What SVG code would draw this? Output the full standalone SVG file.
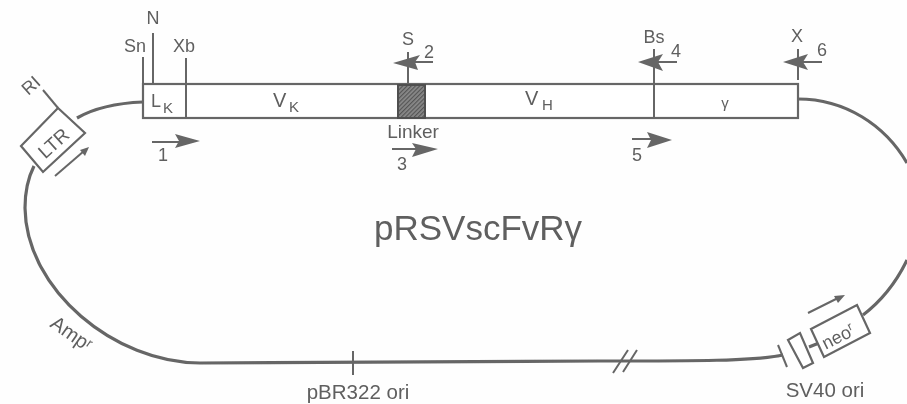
<svg xmlns="http://www.w3.org/2000/svg" width="907" height="404" viewBox="0 0 907 404">
<style>
text{font-family:"Liberation Sans",Arial,sans-serif;fill:#5f5f5f;font-size:18px}
.m{text-anchor:middle}
.s{font-size:15px}
.b{fill:#fff;stroke:#666;stroke-width:2.2}
.l{fill:none;stroke:#666;stroke-width:2}
.p{fill:none;stroke:#666;stroke-width:3.2}
.h{fill:#666}
</style>
<defs>
<pattern id="hatch" width="3" height="3" patternUnits="userSpaceOnUse" patternTransform="rotate(-45)">
<rect width="3" height="3" fill="#8a8a8a"/><rect width="3" height="1.2" fill="#555"/>
</pattern>
<filter id="soft" x="0" y="0" width="100%" height="100%" filterUnits="userSpaceOnUse"><feGaussianBlur stdDeviation="0.5"/></filter>
</defs>
<rect width="907" height="404" fill="#fefefe"/>
<g filter="url(#soft)">
<g id="connectors">
<path class="p" d="M143,102 C118,103 96,107 77,118"/>
<path class="p" d="M34,166 C28,178 25,190 25,208 C26,290 115,363 200,363 L600,361 C700,361 750,361 783,355"/>
<path class="p" d="M798,99 C845,99 885,125 907,163"/>
<path class="p" d="M907,260 C895,285 880,302 863,315"/>
<path class="p" d="M809,347 L819,343"/>
<path class="l" d="M353,351V375"/>
<path class="l" d="M613,373L628,350M623,372L637,350"/>
<path class="l" d="M778,345L787,367"/>
<path class="l" d="M43,90L58,108"/>
<path class="l" d="M143,57V83M153,33V84M186,58V84M408,52V84M654,49V84M798,49V80"/>
</g>
<g id="insert">
<rect class="b" x="143" y="84" width="655" height="34"/>
<path class="l" d="M186,84V118M654,84V118"/>
<rect x="398" y="85" width="27" height="33" fill="url(#hatch)" stroke="#505050" stroke-width="2"/>
<text x="151" y="107">L</text><text x="163" y="113" class="s">K</text>
<text x="273" y="107" style="font-size:20px">V</text><text x="289" y="112" class="s">K</text>
<text x="525" y="105" style="font-size:20px">V</text><text x="542" y="110" class="s">H</text>
<text x="725" y="108" class="s m">γ</text>
</g>
<g id="sites">
<text x="153" y="24" class="m">N</text>
<text x="135" y="52" class="m">Sn</text>
<text x="184" y="52" class="m">Xb</text>
<text x="408" y="45" class="m">S</text>
<text x="654" y="43" class="m">Bs</text>
<text x="797" y="42" class="m">X</text>
<text x="429" y="58" class="m">2</text>
<text x="676" y="57" class="m">4</text>
<text x="822" y="56" class="m">6</text>
<text x="413" y="138" class="m" style="font-size:19px">Linker</text>
</g>
<g id="primers">
<path class="l" d="M152,142H180M392,149H416M632,139H652M407,62H433M654,62H677M798,62H822"/>
<path class="h" d="M175,134L200,141L175,148L179,141Z"/>
<path class="h" d="M412,143L438,149L412,157L416,149Z"/>
<path class="h" d="M647,132L672,140L647,148L651,140Z"/>
<path class="h" d="M393,63L420,55L415,62L418,70Z"/>
<path class="h" d="M638,62L663,54L658,62L663,71Z"/>
<path class="h" d="M783,62L808,54L803,62L808,70Z"/>
<text x="163" y="161" class="m">1</text>
<text x="402" y="170" class="m">3</text>
<text x="637" y="161" class="m">5</text>
</g>
<g id="ltr">
<polygon class="b" points="58,108 85,133 43,172 21,146"/>
<text class="m" transform="translate(58,148) rotate(-42)" style="font-size:19px">LTR</text>
<path class="l" d="M55,176L84,151"/>
<path class="h" d="M89,147L80,150L85,156Z"/>
<text class="m" transform="translate(35,90) rotate(-42)">RI</text>
</g>
<g id="neo">
<polygon class="b" points="811,329 857,305 870,333 824,357"/>
<text class="m" transform="translate(841,342) rotate(-27)">neo<tspan font-size="12" dy="-6">r</tspan></text>
<path class="l" d="M808,313L838,298"/>
<path class="h" d="M845,295L834,296L838,303Z"/>
</g>
<g id="sv40">
<polygon class="b" points="788,340 800,333 813,363 803,368"/>
<text x="825" y="397" class="m" style="font-size:20.5px">SV40 ori</text>
</g>
<g id="amp">
<text transform="translate(49,326) rotate(35)" style="font-size:20px">Amp<tspan font-size="13" dy="-5">r</tspan></text>
</g>
<g id="ori">
<text x="358" y="399" class="m" style="font-size:20.5px">pBR322 ori</text>
</g>
<g id="title">
<text x="478" y="240" class="m" style="font-size:35px">pRSVscFvRγ</text>
</g>
</g>
</svg>
